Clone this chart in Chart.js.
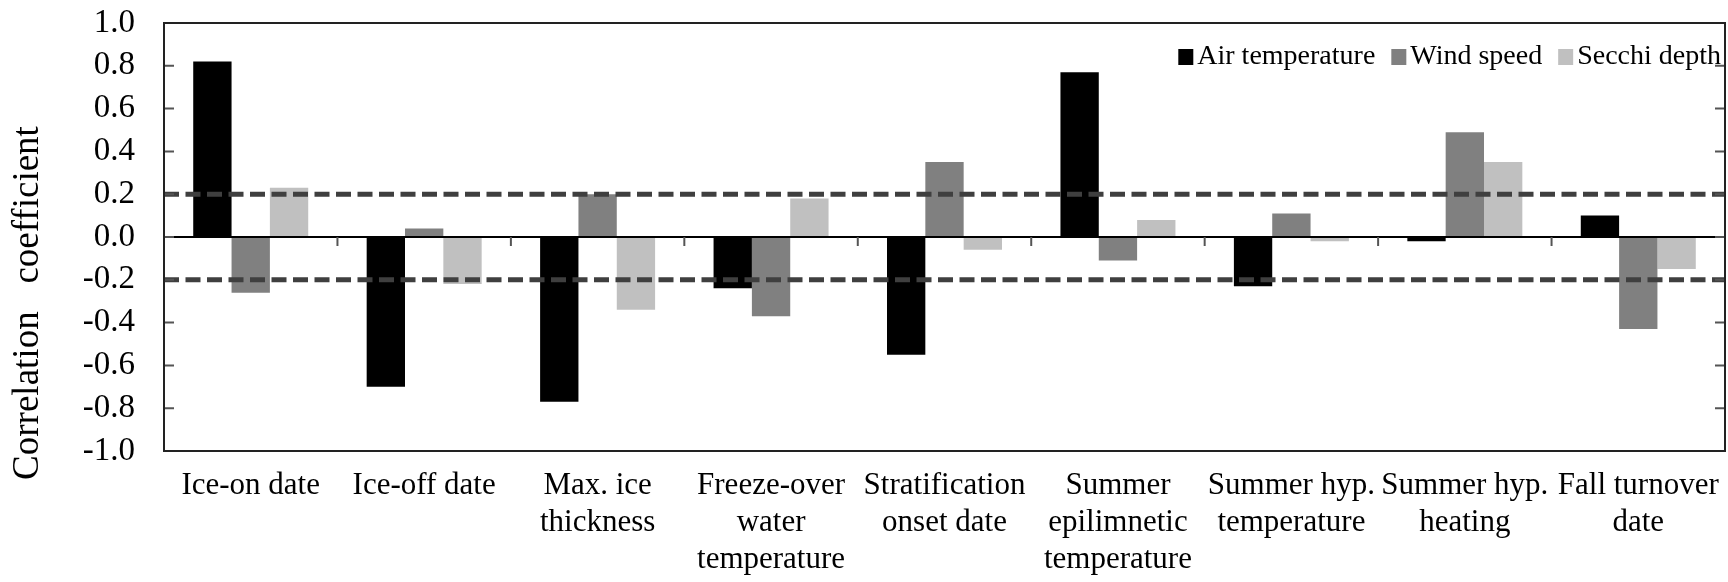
<!DOCTYPE html>
<html>
<head>
<meta charset="utf-8">
<script src="https://cdn.jsdelivr.net/npm/chart.js@4/dist/chart.umd.min.js"></script>
<style>
  html, body { margin: 0; padding: 0; background: #fff; }
  #wrap { width: 1728px; height: 582px; position: relative; }
</style>
</head>
<body>
<div id="wrap"><canvas id="corr"></canvas></div>
<script>
// Correlation of lake ice / stratification metrics with three drivers
const categories = [
    ['Ice-on date'],
    ['Ice-off date'],
    ['Max. ice', 'thickness'],
    ['Freeze-over', 'water', 'temperature'],
    ['Stratification', 'onset date'],
    ['Summer', 'epilimnetic', 'temperature'],
    ['Summer hyp.', 'temperature'],
    ['Summer hyp.', 'heating'],
    ['Fall turnover', 'date'],
];
const seriesNames = ['Air temperature', 'Wind speed', 'Secchi depth'];
const airTemp = [0.82, -0.70, -0.77, -0.24, -0.55, 0.77, -0.23, -0.02, 0.10];
const windSpeed = [-0.26, 0.04, 0.20, -0.37, 0.35, -0.11, 0.11, 0.49, -0.43];
const secchiDepth = [0.23, -0.22, -0.34, 0.18, -0.06, 0.08, -0.02, 0.35, -0.15];
const yTicks = [-1.0, -0.8, -0.6, -0.4, -0.2, 0.0, 0.2, 0.4, 0.6, 0.8, 1.0];
const thresholds = [0.2, -0.2];

const SERIF = "'Liberation Serif', 'Times New Roman', serif";
const colors = ['#000000', '#808080', '#c0c0c0'];

const frame = {
    id: 'frame',
    afterDatasetsDraw(chart) {
        const { ctx, chartArea: a, scales: { x, y } } = chart;
        const y0 = y.getPixelForValue(0);
        ctx.save();

        // significance lines
        ctx.strokeStyle = '#3f3f3f';
        ctx.lineWidth = 5;
        ctx.setLineDash([15, 6.5]);
        thresholds.forEach((t) => {
            const py = y.getPixelForValue(t);
            ctx.beginPath();
            ctx.moveTo(a.left, py);
            ctx.lineTo(a.right, py);
            ctx.stroke();
        });
        ctx.setLineDash([]);

        // zero line + category boundary ticks
        ctx.strokeStyle = '#000';
        ctx.lineWidth = 2;
        ctx.beginPath();
        ctx.moveTo(a.left, y0);
        ctx.lineTo(a.right, y0);
        ctx.stroke();
        ctx.strokeStyle = '#555';
        for (let i = 1; i < categories.length; i++) {
            const px = (x.getPixelForValue(i - 1) + x.getPixelForValue(i)) / 2;
            ctx.beginPath();
            ctx.moveTo(px, y0);
            ctx.lineTo(px, y0 + 9);
            ctx.stroke();
        }

        // inward y ticks on both sides
        yTicks.forEach((v) => {
            const py = y.getPixelForValue(v);
            ctx.beginPath();
            ctx.moveTo(a.left, py);
            ctx.lineTo(a.left + 10, py);
            ctx.moveTo(a.right, py);
            ctx.lineTo(a.right - 10, py);
            ctx.stroke();
        });

        // box
        ctx.strokeStyle = '#222';
        ctx.lineWidth = 2;
        ctx.strokeRect(a.left, a.top, a.right - a.left, a.bottom - a.top);

        // legend, top right inside the box
        ctx.font = '28px ' + SERIF;
        ctx.textBaseline = 'middle';
        let xr = a.right - 4;
        const ly = a.top + 34;
        for (let i = seriesNames.length - 1; i >= 0; i--) {
            const w = ctx.measureText(seriesNames[i]).width;
            ctx.fillStyle = '#000';
            ctx.fillText(seriesNames[i], xr - w, ly);
            ctx.fillStyle = colors[i];
            ctx.fillRect(xr - w - 19, ly - 8, 15, 16);
            xr = xr - w - 19 - 16;
        }

        // y axis title
        ctx.fillStyle = '#000';
        ctx.font = '37px ' + SERIF;
        ctx.textAlign = 'center';
        ctx.translate(28, 303);
        ctx.rotate(-Math.PI / 2);
        ctx.fillText('Correlation   coefficient', 0, 0);
        ctx.restore();
    },
};

new Chart(document.getElementById('corr').getContext('2d'), {
    type: 'bar',
    data: {
        labels: categories,
        datasets: [
            { label: seriesNames[0], data: airTemp, backgroundColor: colors[0] },
            { label: seriesNames[1], data: windSpeed, backgroundColor: colors[1] },
            { label: seriesNames[2], data: secchiDepth, backgroundColor: colors[2] },
        ],
    },
    options: {
        responsive: true,
        maintainAspectRatio: false,
        devicePixelRatio: 1,
        animation: false,
        layout: { padding: { top: 23, right: 3, left: 0, bottom: 0 } },
        datasets: { bar: { categoryPercentage: 0.663, barPercentage: 1.0, borderWidth: 0 } },
        plugins: { legend: { display: false }, tooltip: { enabled: false } },
        scales: {
            x: {
                grid: { display: false, drawTicks: false },
                border: { display: false },
                ticks: { color: '#000', font: { family: SERIF, size: 31, lineHeight: 1.2 }, padding: 16, maxRotation: 0, autoSkip: false },
                afterFit(s) { s.height = 131; s.paddingLeft = 0; s.paddingRight = 0; },
            },
            y: {
                min: -1,
                max: 1,
                grid: { display: false, drawTicks: false },
                border: { display: false },
                ticks: {
                    stepSize: 0.2,
                    autoSkip: false,
                    color: '#000',
                    padding: 29,
                    font: { family: SERIF, size: 33 },
                    callback: (v) => (Math.abs(v) < 1e-9 ? '0.0' : v.toFixed(1)),
                },
                afterFit(s) { s.width = 164; s.paddingTop = 0; s.paddingBottom = 0; },
            },
        },
    },
    plugins: [frame],
});
</script>
</body>
</html>
